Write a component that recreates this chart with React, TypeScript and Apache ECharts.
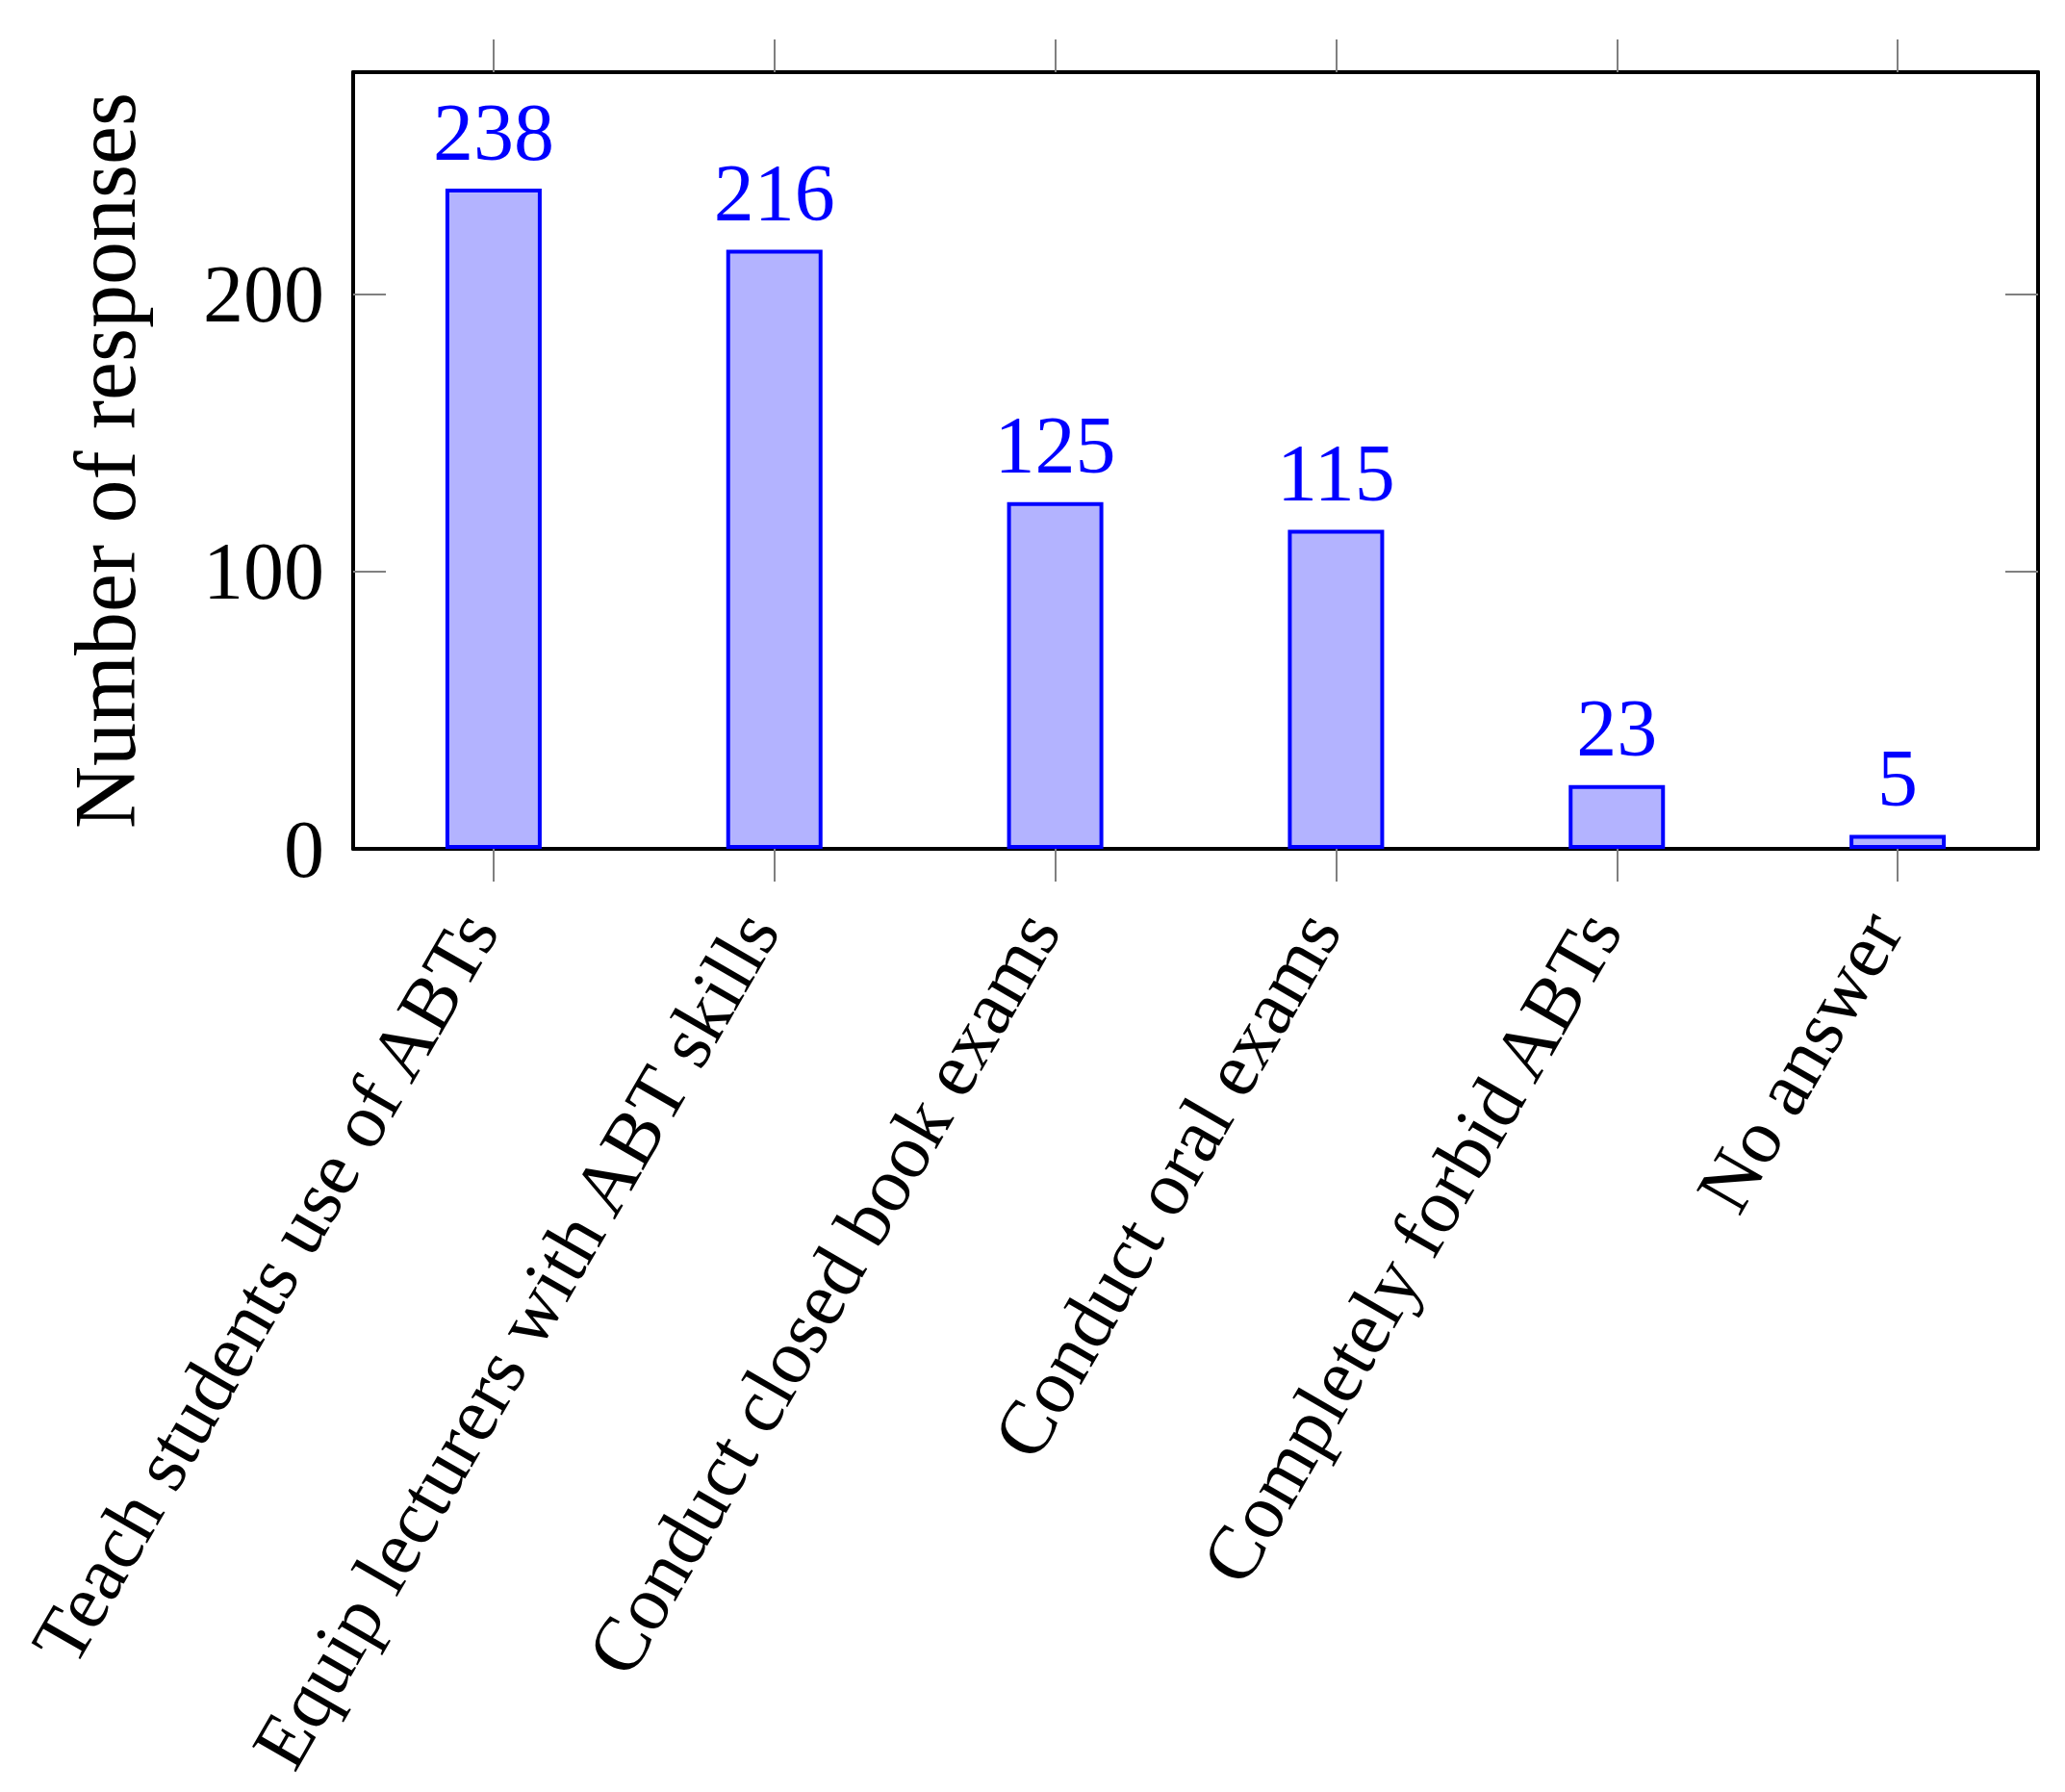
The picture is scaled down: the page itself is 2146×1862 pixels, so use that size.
import React, { useEffect, useRef } from "react";
import * as echarts from "echarts";

const categories = [
  "Teach students use of ABTs",
  "Equip lecturers with ABT skills",
  "Conduct closed book exams",
  "Conduct oral exams",
  "Completely forbid ABTs",
  "No answer",
];
const responses = [238, 216, 125, 115, 23, 5];
const yTickValues = [100, 200];
const yLabelValues = [0, 100, 200];

const FONT = "'Liberation Serif', 'DejaVu Serif', serif";

export default function App() {
  const ref = useRef<HTMLDivElement>(null);
  useEffect(() => {
    if (!ref.current) return;
    const chart = echarts.init(ref.current, undefined, { renderer: "svg" });
    const frameLine = { show: true, onZero: false, lineStyle: { color: "#000", width: 4 } };
    const tickStyle = { color: "#808080", width: 2 };
    chart.setOption({
      animation: false,
      backgroundColor: "#ffffff",
      grid: {
        left: 367,
        right: 28,
        top: 75,
        bottom: 980,
        containLabel: false,
        outerBoundsMode: "none",
      },
      xAxis: [
        {
          type: "category",
          data: categories,
          position: "bottom",
          boundaryGap: true,
          axisLine: frameLine,
          axisTick: { show: true, alignWithLabel: true, inside: false, length: 34, lineStyle: tickStyle },
          axisLabel: {
            interval: 0,
            rotate: 60,
            margin: 44,
            padding: [0, 32, 0, 0],
            fontSize: 80,
            fontFamily: FONT,
            color: "#000",
          },
          splitLine: { show: false },
        },
        {
          type: "category",
          data: categories,
          position: "top",
          boundaryGap: true,
          axisLine: frameLine,
          axisTick: { show: true, alignWithLabel: true, inside: false, length: 34, lineStyle: tickStyle },
          axisLabel: { show: false },
          splitLine: { show: false },
        },
      ],
      yAxis: [
        {
          type: "value",
          position: "left",
          min: 0,
          max: 280,
          interval: 100,
          name: "Number of responses",
          nameLocation: "middle",
          nameGap: 213,
          nameTextStyle: { fontSize: 90, fontFamily: FONT, color: "#000" },
          axisLine: frameLine,
          axisTick: { show: true, inside: true, length: 34, lineStyle: tickStyle, customValues: yTickValues },
          axisLabel: {
            margin: 30,
            fontSize: 84,
            fontFamily: FONT,
            color: "#000",
            customValues: yLabelValues,
            formatter: (v: number) => (v % 100 === 0 ? String(v) : ""),
          },
          splitLine: { show: false },
        },
        {
          type: "value",
          position: "right",
          min: 0,
          max: 280,
          interval: 100,
          axisLine: frameLine,
          axisTick: { show: true, inside: true, length: 34, lineStyle: tickStyle, customValues: yTickValues },
          axisLabel: { show: false },
          splitLine: { show: false },
        },
      ],
      series: [
        {
          type: "bar",
          data: responses,
          xAxisIndex: 0,
          yAxisIndex: 0,
          barWidth: 100,
          itemStyle: { color: "#b3b3ff", borderColor: "#0000ff", borderWidth: 4 },
          label: {
            show: true,
            position: "top",
            distance: 17,
            color: "#0000ff",
            fontSize: 84,
            fontFamily: FONT,
          },
        },
      ],
    });
    return () => chart.dispose();
  }, []);
  return (
    <div
      ref={ref}
      style={{ position: "fixed", left: 0, top: 0, width: 2146, height: 1862, background: "#fff" }}
    />
  );
}
